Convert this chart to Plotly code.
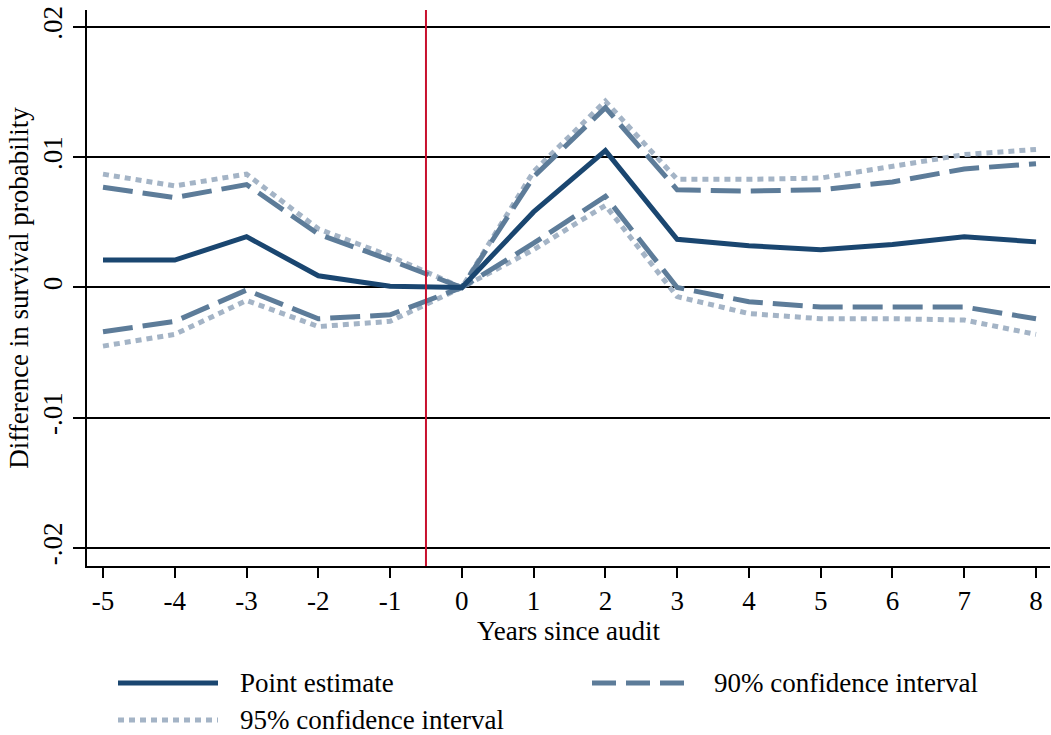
import plotly.graph_objects as go

years = [-5, -4, -3, -2, -1, 0, 1, 2, 3, 4, 5, 6, 7, 8]
point_estimate = [0.0021, 0.0021, 0.0039, 0.0009, 0.0001, 0.0, 0.0058, 0.0105, 0.0037, 0.0032, 0.0029, 0.0033, 0.0039, 0.0035]
ci90_upper = [0.0077, 0.0069, 0.0079, 0.0041, 0.0021, 0.0, 0.0085, 0.0138, 0.0075, 0.0074, 0.0075, 0.0081, 0.0091, 0.0095]
ci90_lower = [-0.0034, -0.0026, -0.0002, -0.0024, -0.0021, 0.0, 0.0034, 0.0070, 0.0000, -0.0011, -0.0015, -0.0015, -0.0015, -0.0024]
ci95_upper = [0.0087, 0.0078, 0.0087, 0.0045, 0.0024, 0.0, 0.0089, 0.0143, 0.0083, 0.0083, 0.0084, 0.0093, 0.0102, 0.0106]
ci95_lower = [-0.0045, -0.0036, -0.0010, -0.0030, -0.0026, 0.0, 0.0029, 0.0063, -0.0007, -0.0020, -0.0024, -0.0024, -0.0025, -0.0036]
y_ticks = [-0.02, -0.01, 0, 0.01, 0.02]
y_tick_labels = ["-.02", "-.01", "0", ".01", ".02"]
audit_line = -0.5

C_PT = "#1a4670"
C_90 = "#5d7c99"
C_95 = "#a4b4c6"
FONT = "Liberation Serif"
FS = 27

fig = go.Figure()
fig.add_trace(go.Scatter(x=years, y=ci95_upper, mode="lines", line=dict(color=C_95, width=5, dash="6px,5px"), showlegend=False))
fig.add_trace(go.Scatter(x=years, y=ci95_lower, mode="lines", line=dict(color=C_95, width=5, dash="6px,5px"), showlegend=False))
fig.add_trace(go.Scatter(x=years, y=ci90_upper, mode="lines", line=dict(color=C_90, width=5, dash="30px,10px"), showlegend=False))
fig.add_trace(go.Scatter(x=years, y=ci90_lower, mode="lines", line=dict(color=C_90, width=5, dash="30px,10px"), showlegend=False))
fig.add_trace(go.Scatter(x=years, y=point_estimate, mode="lines", line=dict(color=C_PT, width=5), showlegend=False))

fig.add_vline(x=audit_line, line=dict(color="#c8102e", width=2), layer="above")

# manual legend (paper coordinates)
W, H = 1051, 735
ml, mr, mt, mb = 87, 1, 10, 169
pw, ph = W - ml - mr, H - mt - mb
def px(xp):
    return (xp - ml) / pw
def py(yp):
    return (H - mb - yp) / ph

legend_items = [
    ("Point estimate", C_PT, "solid", 118, 683),
    ("90% confidence interval", C_90, "24px,10px", 592, 683),
    ("95% confidence interval", C_95, "6px,5px", 118, 720),
]
for label, col, dash, x0, y0 in legend_items:
    fig.add_shape(type="line", xref="paper", yref="paper", x0=px(x0), x1=px(x0 + 100), y0=py(y0), y1=py(y0),
                  line=dict(color=col, width=5, dash=dash))
    fig.add_annotation(xref="paper", yref="paper", x=px(x0 + 120), y=py(y0), text=label, showarrow=False,
                       xanchor="left", yanchor="middle", font=dict(family=FONT, size=FS, color="black"))

fig.update_layout(
    width=W, height=H,
    margin=dict(l=ml, r=mr, t=mt, b=mb),
    plot_bgcolor="white", paper_bgcolor="white",
    font=dict(family=FONT, size=FS, color="black"),
    showlegend=False,
    xaxis=dict(range=[-5.223, 8.195], tickmode="array", tickvals=years, ticktext=[str(v) for v in years],
               showgrid=False, zeroline=False, showline=True, linecolor="black", linewidth=1.5,
               ticks="outside", ticklen=10, tickwidth=1.5, tickcolor="black",
               title=dict(text="Years since audit", font=dict(family=FONT, size=FS), standoff=2)),
    yaxis=dict(range=[-0.02138, 0.0213], tickmode="array", tickvals=y_ticks, ticktext=y_tick_labels,
               tickangle=-90, showgrid=True, gridcolor="black", gridwidth=1.5, zeroline=False,
               showline=True, linecolor="black", linewidth=1.5,
               ticks="outside", ticklen=12, tickwidth=1.5, tickcolor="black",
               title=dict(text="Difference in survival probability", font=dict(family=FONT, size=FS), standoff=2)),
)

fig.write_html("out.html")
